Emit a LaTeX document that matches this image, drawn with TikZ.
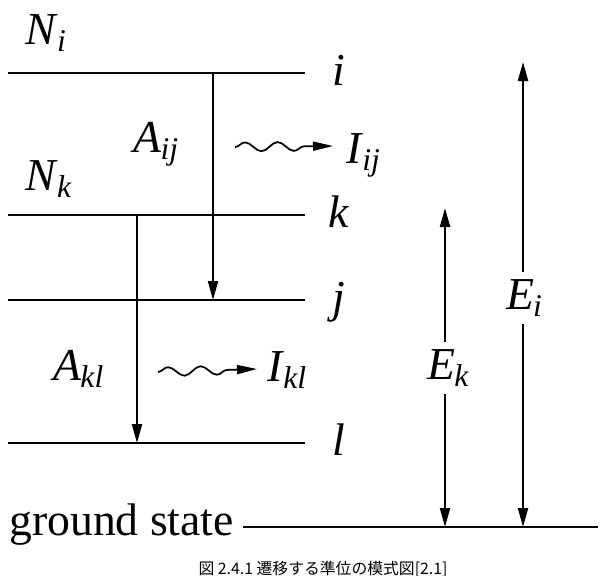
\documentclass[tikz,border=0pt]{standalone}
\usepackage{fontspec}
\setmainfont{Liberation Serif}
\newfontfamily\jpfont{Noto Sans CJK JP}
\usetikzlibrary{arrows.meta,decorations.pathmorphing,positioning}
\newcommand{\symb}[2]{\textit{#1}\kern-0.02em\raisebox{-0.35ex}{\fontsize{18}{18}\selectfont\textit{#2}}}

\begin{document}
\begin{tikzpicture}[x=0.02cm,y=-0.02cm,font=\fontsize{26}{30}\selectfont,>={Triangle[length=0.38cm,width=0.2cm]},
    lvl/.style={line width=1.2pt},
    trans/.style={line width=1.2pt,->},
    wave/.style={line width=1pt,-{Triangle[length=0.4cm,width=0.18cm]},decorate,decoration={snake,amplitude=0.09cm,segment length=0.65cm,post length=0.55cm}},
    lbl/.style={inner sep=0pt}]
    \useasboundingbox (0,0) rectangle (607,575);
    % levels
    \foreach \n/\y in {i/73,k/215,j/300,l/443}{
      \coordinate (\n L) at (8,\y);
      \coordinate (\n R) at (305,\y);
      \draw[lvl] (\n L) -- (\n R);
      \node[lbl,anchor=base] (\n lab) at (339,\y+12) {\textit{\n}};
    }
    \node[lbl,anchor=base west] (Ni) at (25,44) {\symb{N}{i}};
    \node[lbl,anchor=base west] (Nk) at (25,190) {\symb{N}{k}};
    % transitions
    \coordinate (ijtop) at (213,73);
    \coordinate (ijbot) at (213,300);
    \coordinate (kltop) at (137,215);
    \coordinate (klbot) at (137,443);
    \draw[trans] (ijtop) -- (ijbot);
    \draw[trans] (kltop) -- (klbot);
    \node[lbl,anchor=base west] (Aij) at (133,152) {\symb{A}{ij}};
    \node[lbl,anchor=base west] (Akl) at (53,380) {\symb{A}{kl}};
    % emitted light
    \coordinate (wij) at (235,147);
    \coordinate (wijend) at (333,146);
    \coordinate (wkl) at (158,372);
    \coordinate (wklend) at (257,369);
    \draw[wave] (wij) -- (wijend);
    \draw[wave] (wkl) -- (wklend);
    \node[lbl,anchor=base west] (Iij) at (346,163) {\symb{I}{ij}};
    \node[lbl,anchor=base west] (Ikl) at (267,381) {\symb{I}{kl}};
    % ground state
    \node[lbl,anchor=base west] (gs) at (9,535) {ground state};
    \coordinate (gL) at (243,527);
    \coordinate (gR) at (598,527);
    \draw[lvl] (gL) -- (gR);
    % energies
    \coordinate (Ektop) at (445,208);
    \coordinate (Eitop) at (523,62);
    \node[inner sep=4pt] (Ek) at (448,368) {\symb{E}{k}};
    \node[inner sep=4pt] (Ei) at (524,298) {\symb{E}{i}};
    \draw[trans] (Ektop |- Ek.north) -- (Ektop);
    \draw[trans] (Ektop |- Ek.south) -- (Ektop |- gR);
    \draw[trans] (Eitop |- Ei.north) -- (Eitop);
    \draw[trans] (Eitop |- Ei.south) -- (Eitop |- gR);
    \node[font=\jpfont\fontsize{9}{9}\selectfont,anchor=base] (cap) at (323,574) {図 2.4.1 遷移する準位の模式図[2.1]};
\end{tikzpicture}
\end{document}
